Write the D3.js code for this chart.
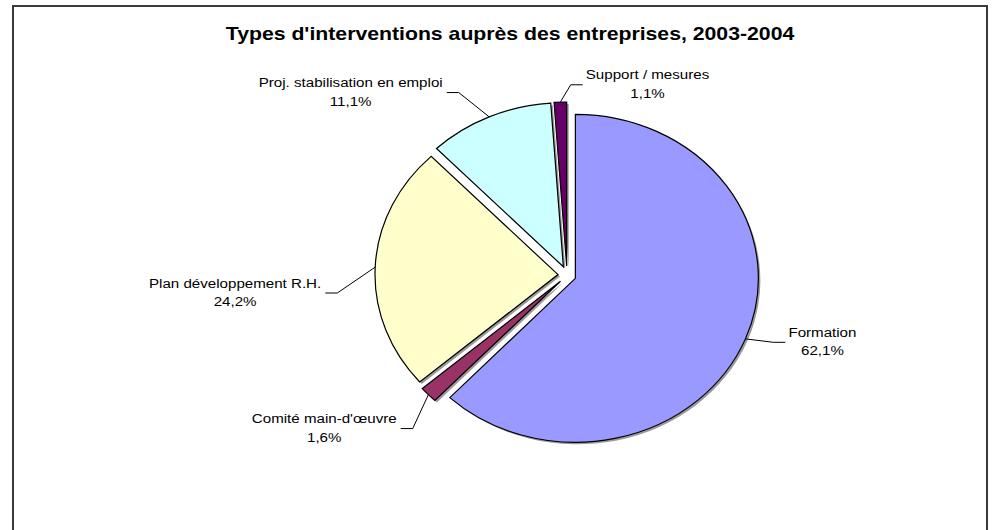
<!DOCTYPE html>
<html>
<head>
<meta charset="utf-8">
<script src="https://cdn.jsdelivr.net/npm/d3@7"></script>
<style>
  body { margin: 0; background: #fff; }
  text { font-family: "Liberation Sans", Arial, sans-serif; fill: #000; }
</style>
</head>
<body>
<div id="chart"></div>
<script>
var categories = ["Formation", "Comité main-d'œuvre", "Plan développement R.H.", "Proj. stabilisation en emploi", "Support / mesures"];
var values = [62.1, 1.6, 24.2, 11.1, 1.1];
var colors = ["#9999ff", "#993366", "#ffffcc", "#ccffff", "#660066"];

// where each label sits (angle in degrees from 12 o'clock, radius as a multiple of the pie)
var labelAngles = [110, 222, 265, 332, 1];
var labelRadii = [1.2, 1.26, 1.26, 1.26, 1.16];

var width = 1000, height = 530;
var cx = 567, cy = 275, rx = 183, ry = 164, explode = 9;
var titleStretch = 1.18, labelStretch = 1.21;

var svg = d3.select("#chart").append("svg")
    .attr("width", width)
    .attr("height", height);

svg.append("rect")
    .attr("x", 13).attr("y", 6)
    .attr("width", 974).attr("height", 600)
    .attr("fill", "none")
    .attr("stroke", "#3a3a3a")
    .attr("stroke-width", 2);

svg.append("text")
    .attr("transform", "translate(510,40) scale(" + titleStretch + ",1)")
    .attr("text-anchor", "middle")
    .style("font-size", "18px")
    .style("font-weight", "bold")
    .text("Types d'interventions auprès des entreprises, 2003-2004");

var pie = d3.pie().sort(null).value(function(d) { return d; });
var arcs = pie(values);

var arc = d3.arc().innerRadius(0).outerRadius(ry);

function offset(d) {
  var mid = (d.startAngle + d.endAngle) / 2;
  return [explode * Math.sin(mid), -explode * Math.cos(mid)];
}

// shadows
svg.selectAll(".shadow")
  .data(arcs)
  .enter().append("path")
    .attr("class", "shadow")
    .attr("d", arc)
    .attr("fill", "#9a9a9a")
    .attr("transform", function(d) {
      var o = offset(d);
      return "translate(" + (cx + o[0] + 2) + "," + (cy + o[1] + 2) + ") scale(" + (rx / ry) + ",1)";
    });

svg.selectAll(".slice")
  .data(arcs)
  .enter().append("path")
    .attr("class", "slice")
    .attr("d", arc)
    .attr("fill", function(d, i) { return colors[i]; })
    .attr("stroke", "#000")
    .attr("stroke-width", 1.2)
    .attr("vector-effect", "non-scaling-stroke")
    .attr("stroke-linejoin", "miter")
    .attr("transform", function(d) {
      var o = offset(d);
      return "translate(" + (cx + o[0]) + "," + (cy + o[1]) + ") scale(" + (rx / ry) + ",1)";
    });

// labels with leader lines
arcs.forEach(function(d, i) {
  var mid = (d.startAngle + d.endAngle) / 2;
  var o = offset(d);
  var sx = cx + o[0] + rx * Math.sin(mid),
      sy = cy + o[1] - ry * Math.cos(mid);
  var la = labelAngles[i] * Math.PI / 180;
  var ex = cx + rx * labelRadii[i] * Math.sin(la),
      ey = cy - ry * labelRadii[i] * Math.cos(la);
  var right = ex >= cx;
  var hx = right ? ex + 12 : ex - 12;

  svg.append("polyline")
      .attr("points", [[sx, sy], [ex, ey], [hx, ey]].map(function(p) { return p.join(","); }).join(" "))
      .attr("fill", "none")
      .attr("stroke", "#000")
      .attr("stroke-width", 1);

  var g = svg.append("g");
  var line1 = g.append("text")
      .attr("text-anchor", "middle")
      .style("font-size", "12.5px")
      .text(categories[i]);
  var line2 = g.append("text")
      .attr("text-anchor", "middle")
      .style("font-size", "12.5px")
      .text(values[i].toFixed(1).replace(".", ",") + "%");

  var w = Math.max(line1.node().getComputedTextLength(), line2.node().getComputedTextLength()) * labelStretch;
  var bx = right ? hx + 3 : hx - 4;
  bx = right ? bx + w / 2 : bx - w / 2;
  var by = ey - 5.5;

  line1.attr("transform", "translate(" + bx + "," + by + ") scale(" + labelStretch + ",1)");
  line2.attr("transform", "translate(" + bx + "," + (by + 18.5) + ") scale(" + labelStretch + ",1)");
});
</script>
</body>
</html>
